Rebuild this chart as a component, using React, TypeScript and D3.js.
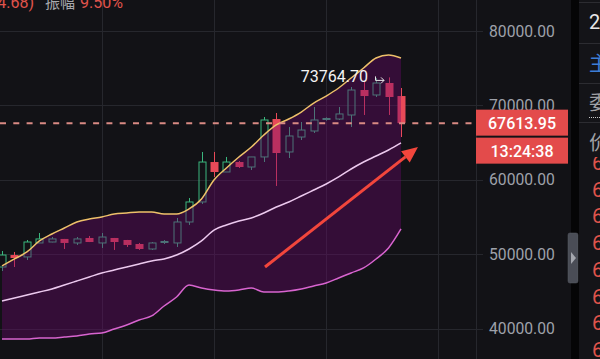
import React from "react";
import * as d3 from "d3";

// ---- data ----
const opens = [48280, 49890, 49630, 51510, 51640, 52050, 51510, 52180, 51510, 52180, 51910, 51370, 50700, 51510, 51510, 54330, 57020, 62390, 61050, 62390, 61720, 63070, 68170, 63740, 65750, 66560, 68040, 68170, 68710, 72070, 71400, 73010, 71260];
const closes = [49890, 49490, 51640, 52050, 52050, 51510, 52050, 51640, 52310, 51640, 51240, 50700, 51510, 51780, 54330, 57020, 62390, 61050, 62390, 61720, 63070, 68040, 63600, 65890, 66690, 68040, 68310, 68850, 72070, 71260, 73010, 71130, 67613.95];
const highs = [50430, 50300, 51910, 52850, 52310, 52060, 52310, 52450, 52850, 52190, 51920, 51510, 51640, 51910, 54870, 57550, 63740, 63740, 63070, 62530, 63080, 68440, 68980, 67100, 67770, 69790, 68400, 69790, 72470, 73150, 73680, 73764.7, 72340];
const lows = [47740, 48280, 49220, 51500, 51600, 50700, 51240, 51630, 50840, 50570, 50970, 50570, 50570, 51370, 50970, 53930, 56750, 60380, 61040, 61590, 61320, 62390, 59170, 62930, 65350, 66290, 67950, 68040, 67100, 68710, 71130, 68710, 65750];

const upperBand = [48420, 49360, 50300, 51780, 52720, 53520, 54330, 54730, 55000, 55400, 55540, 55670, 55670, 55400, 55400, 56080, 57420, 59970, 61590, 63070, 64410, 66020, 67370, 68170, 69110, 70320, 71260, 72340, 73680, 75030, 76370, 76770, 76370];
const middleBand = [43710, 44120, 44520, 44920, 45330, 45860, 46400, 46940, 47480, 47880, 48280, 48690, 49090, 49360, 49890, 50700, 51780, 53250, 53930, 54460, 54870, 55540, 56350, 57020, 57820, 58630, 59440, 60380, 61450, 62390, 63200, 64010, 64950];
const lowerBand = [38600, 38600, 38600, 38740, 38740, 38870, 39010, 39280, 39410, 39950, 40490, 41160, 41700, 43040, 44250, 45850, 45460, 45190, 45060, 45190, 45460, 44920, 44920, 45060, 45330, 45730, 46130, 46800, 47480, 48150, 49360, 50840, 53390];

const yTicks = [40000, 50000, 60000, 70000, 80000];
const gridIndices = [8, 17, 26, 35];
const lastPrice = 67613.95;
const highLabel = "73764.70";
const countdown = "13:24:38";
const sideDigits = ["6", "6", "6", "6", "6", "6", "6", "6"];

// ---- style ----
const BG = "#121216";
const GRID = "#26272d";
const UP = "#3bb77e";
const DOWN = "#e84a58";

export default function App() {
  const W = 600, H = 359;
  const plotRight = 476;
  const x = d3.scaleLinear().domain([0, 32]).range([2, 401]);
  const y = d3.scaleLinear().domain([40000, 80000]).range([328.6, 31]);
  const idx = d3.range(opens.length);

  const area = d3.area<number>()
    .x((i) => x(i))
    .y0((i) => y(lowerBand[i]))
    .y1((i) => y(upperBand[i]))
    .curve(d3.curveMonotoneX);
  const line = (arr: number[]) =>
    d3.line<number>().x((i) => x(i)).y((i) => y(arr[i])).curve(d3.curveMonotoneX)(idx) || "";

  const fmt = d3.format(".2f");
  const bw = 8;
  const py = y(lastPrice);

  // arrow geometry (annotation)
  const ax0 = 265, ay0 = 267, ax1 = 418, ay1 = 147;
  const ang = Math.atan2(ay1 - ay0, ax1 - ax0);
  const hl = 16, hw = 7;
  const bx = ax1 - hl * Math.cos(ang), by = ay1 - hl * Math.sin(ang);
  const head = `M${ax1},${ay1} L${bx + hw * Math.sin(ang)},${by - hw * Math.cos(ang)} L${bx - hw * Math.sin(ang)},${by + hw * Math.cos(ang)} Z`;

  const hiIdx = highs.indexOf(d3.max(highs) as number);
  const hiY = y(highs[hiIdx]);

  return (
    <svg width={W} height={H} style={{ position: "absolute", left: 0, top: 0, display: "block", background: BG }}
      fontFamily="Roboto, 'Noto Sans', sans-serif">
      <defs>
        <clipPath id="plot"><rect x={0} y={0} width={plotRight} height={H} /></clipPath>
        <clipPath id="side"><rect x={579} y={157} width={21} height={H} /></clipPath>
      </defs>
      <rect x={0} y={0} width={W} height={H} fill={BG} />
      {/* grid */}
      {yTicks.map((t) => (
        <line key={"h" + t} x1={0} x2={plotRight + 7} y1={Math.round(y(t)) + 0.5} y2={Math.round(y(t)) + 0.5} stroke={GRID} strokeWidth={1} />
      ))}
      {gridIndices.map((g) => (
        <line key={"v" + g} x1={Math.round(x(g)) + 0.5} x2={Math.round(x(g)) + 0.5} y1={0} y2={H} stroke={GRID} strokeWidth={1} />
      ))}
      <g clipPath="url(#plot)">
        {/* candles */}
        {idx.map((i) => {
          const up = closes[i] >= opens[i];
          const c = up ? UP : DOWN;
          const cx = Math.round(x(i)) + 0.5;
          const top = y(Math.max(opens[i], closes[i]));
          const bot = y(Math.min(opens[i], closes[i]));
          const h = Math.max(bot - top, 1.5);
          return (
            <g key={i}>
              <line x1={cx} x2={cx} y1={y(highs[i])} y2={top} stroke={c} strokeWidth={1} />
              <line x1={cx} x2={cx} y1={top + h} y2={y(lows[i])} stroke={c} strokeWidth={1} />
              {up && h > 3 ? (
                <rect x={cx - bw / 2 + 0.5} y={top} width={bw - 1} height={h} fill="none" stroke={c} strokeWidth={1} />
              ) : (
                <rect x={cx - bw / 2} y={top} width={bw} height={h} fill={c} />
              )}
            </g>
          );
        })}
        {/* bollinger band fill */}
        <path d={area(idx) || ""} fill="rgba(107,4,111,0.38)" />
        <path d={line(upperBand)} fill="none" stroke="#eec16a" strokeWidth={1.5} />
        <path d={line(middleBand)} fill="none" stroke="#ecc9ee" strokeWidth={1.5} />
        <path d={line(lowerBand)} fill="none" stroke="#d864cf" strokeWidth={1.5} />
        {/* last price dashed line */}
        <line x1={0} x2={plotRight} y1={py} y2={py} stroke="#d98a84" strokeWidth={2} strokeDasharray="6 7.3" />
        {/* arrow */}
        <line x1={ax0} y1={ay0} x2={bx} y2={by} stroke="#f2463c" strokeWidth={3} />
        <path d={head} fill="#f2463c" />
        {/* high label */}
        <text x={368} y={hiY + 4.5} textAnchor="end" fill="#f4f4f4" fontSize={16}>{highLabel}</text>
        <path d={`M${375.5},${hiY - 1} V${hiY + 3} H${384}`} fill="none" stroke="#e8e8e8" strokeWidth={1} />
        <path d={`M${381},${hiY} L${384},${hiY + 3} L${381},${hiY + 6}`} fill="none" stroke="#e8e8e8" strokeWidth={1} />
      </g>
      {/* top info text */}
      <text x={34} y={8} textAnchor="end" fill="#e0544c" fontSize={16}>4.68)</text>
      <text x={45} y={8} fill="#a8a8ac" fontSize={15} fontFamily="'Noto Sans CJK SC', sans-serif">振幅</text>
      <text x={80} y={8} fill="#e0544c" fontSize={16}>9.50%</text>
      {/* axis */}
      <line x1={plotRight + 0.5} x2={plotRight + 0.5} y1={0} y2={H} stroke={GRID} strokeWidth={1} />
      {yTicks.map((t) => (
        <text key={"t" + t} x={489} y={y(t) + 5.5} fill="#9ea1aa" fontSize={15.7}>{fmt(t)}</text>
      ))}
      {/* price boxes */}
      <rect x={476} y={py - 13.5} width={92} height={26} fill="#e34b4b" />
      <text x={522} y={py + 5.5} textAnchor="middle" fill="#ffffff" fontSize={16} fontWeight={500}>{fmt(lastPrice)}</text>
      <rect x={476} y={py + 14.5} width={92} height={26} fill="#e34b4b" />
      <text x={522} y={py + 33.5} textAnchor="middle" fill="#ffffff" fontSize={16} fontWeight={500}>{countdown}</text>
      {/* right side panel */}
      <rect x={571} y={0} width={8} height={H} fill="#050506" />
      <rect x={579} y={0} width={21} height={H} fill="#141418" />
      {/* scroll handle */}
      <rect x={568} y={233} width={10} height={50} rx={2} fill="#4a4d56" stroke="#5a5d66" strokeWidth={0.5} />
      <path d="M571,252 L576,258 L571,264 Z" fill="#a4a7ae" />
      {[2, 43, 83, 122].map((ly) => (
        <line key={"p" + ly} x1={579} x2={600} y1={ly + 0.5} y2={ly + 0.5} stroke="#2c2c31" />
      ))}
      <text x={589} y={29} fill="#e6e6e6" fontSize={20}>2</text>
      <text x={589} y={71} fill="#3c7dd6" fontSize={20} fontFamily="'Noto Sans CJK SC', sans-serif">主</text>
      <text x={589} y={110} fill="#a0a0a4" fontSize={20} fontFamily="'Noto Sans CJK SC', sans-serif">委</text>
      <line x1={589} x2={600} y1={117.5} y2={117.5} stroke="#c8c8c8" strokeDasharray="1 1" />
      <text x={589} y={150} fill="#a0a0a4" fontSize={20} fontFamily="'Noto Sans CJK SC', sans-serif">价</text>
      <g clipPath="url(#side)">
        {sideDigits.map((s, k) => (
          <text key={"s" + k} x={592} y={170 + k * 26.7} fill="#e0544c" fontSize={20}>{s}</text>
        ))}
      </g>
    </svg>
  );
}
